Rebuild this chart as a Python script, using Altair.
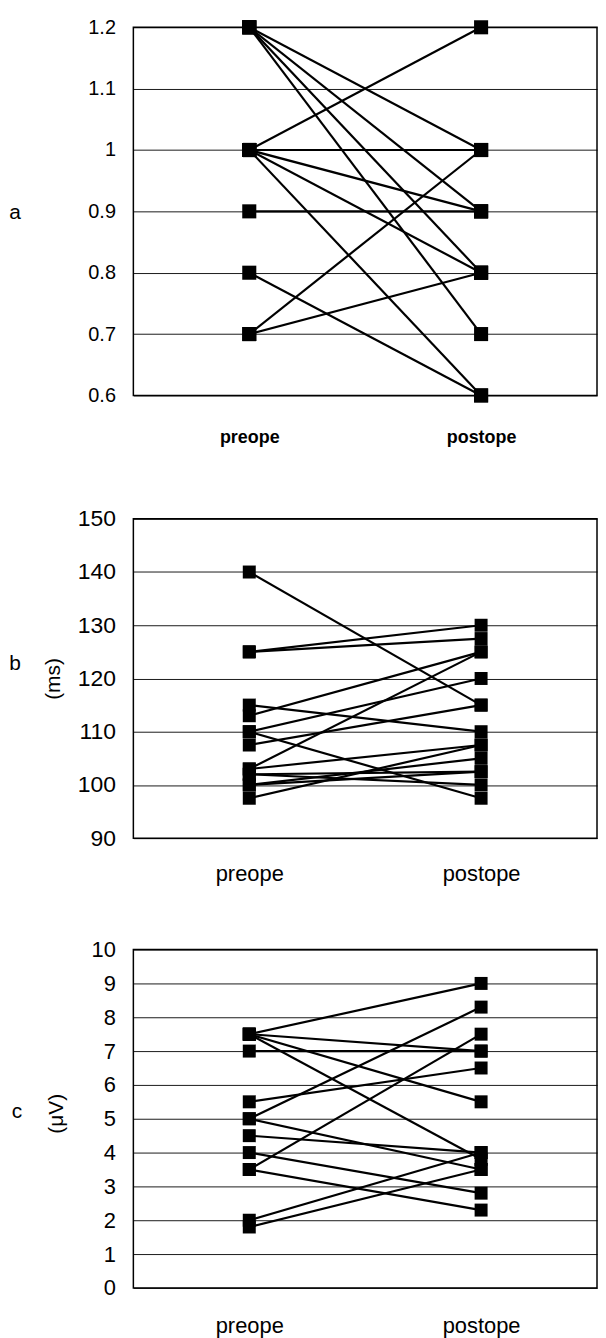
import altair as alt
import pandas as pd

phases = ["preope", "postope"]

# panel a (ratio)
a_pre = [1.2, 1.2, 1.2, 1.2, 1.0, 1.0, 1.0, 1.0, 1.0, 0.9, 0.8, 0.7, 0.7]
a_post = [1.0, 0.9, 0.8, 0.7, 1.2, 1.0, 0.9, 0.8, 0.6, 0.9, 0.6, 1.0, 0.8]
a_ticks = [0.6, 0.7, 0.8, 0.9, 1.0, 1.1, 1.2]

# panel b (ms)
b_pre = [140, 125, 125, 113, 110, 107.5, 103, 115, 110, 103, 100, 97.5, 102, 102, 100]
b_post = [115, 130, 127.5, 125, 120, 115, 125, 110, 97.5, 107.5, 105, 107.5, 100, 102.5, 102.5]
b_ticks = [90, 100, 110, 120, 130, 140, 150]

# panel c (uV)
c_pre = [7.5, 7.5, 7.0, 7.5, 7.5, 5.5, 5.0, 5.0, 4.5, 4.0, 3.5, 3.5, 2.0, 1.8]
c_post = [9.0, 7.0, 7.0, 5.5, 3.8, 6.5, 8.3, 3.5, 4.0, 2.8, 7.5, 2.3, 4.0, 3.5]
c_ticks = [0, 1, 2, 3, 4, 5, 6, 7, 8, 9, 10]

FONT = "Liberation Sans"
W = 466


def long(pre, post):
    rows = []
    for i, (p, q) in enumerate(zip(pre, post)):
        rows.append({"id": i, "phase": "preope", "value": p})
        rows.append({"id": i, "phase": "postope", "value": q})
    return pd.DataFrame(rows)


def panel(pre, post, domain, ticks, height, tick_size, fmt, xl_size, xl_pad,
          xl_weight, letter, letter_xy, unit=None, unit_xy=None, sq=170):
    df = long(pre, post)
    x = alt.X("phase:N", sort=phases,
              scale=alt.Scale(type="point", domain=phases, padding=0.5),
              axis=alt.Axis(title=None, labelAngle=0, domain=False, ticks=False,
                            grid=False, labelPadding=xl_pad, labelFontSize=xl_size,
                            labelFont=FONT, labelColor="black",
                            labelFontWeight=xl_weight))
    y = alt.Y("value:Q",
              scale=alt.Scale(domain=domain, nice=False, zero=False),
              axis=alt.Axis(title=None, values=ticks, format=fmt, grid=True,
                            gridColor="black", gridWidth=1, gridOpacity=0.9,
                            domain=False, ticks=False, labelPadding=18,
                            labelFontSize=tick_size, labelFont=FONT,
                            labelColor="black", labelFlush=False))
    base = alt.Chart(df)
    lines = base.mark_line(color="black", strokeWidth=2.2).encode(
        x=x, y=y, detail="id:N")
    pts = base.mark_square(color="black", size=sq, opacity=1).encode(x=x, y=y)
    layers = [lines, pts]
    lt = alt.Chart(pd.DataFrame({"t": [letter]})).mark_text(
        font=FONT, fontSize=21, color="black", align="center",
        baseline="middle").encode(x=alt.value(letter_xy[0]),
                                  y=alt.value(letter_xy[1]), text="t:N")
    layers.append(lt)
    if unit:
        ut = alt.Chart(pd.DataFrame({"t": [unit]})).mark_text(
            font=FONT, fontSize=21, color="black", align="center",
            baseline="middle", angle=270).encode(
            x=alt.value(unit_xy[0]), y=alt.value(unit_xy[1]), text="t:N")
        layers.append(ut)
    return alt.layer(*layers).properties(width=W, height=height)


pa = panel(a_pre, a_post, [0.6, 1.2], a_ticks, 370, 20, ".1~f", 18, 33, "bold",
           "a", (-119, 187), sq=200)
pb = panel(b_pre, b_post, [90, 150], b_ticks, 321, 23, "d", 22, 26, "normal",
           "b", (-119, 146), "(ms)", (-80, 161))
pc = panel(c_pre, c_post, [0, 10], c_ticks, 340, 22, "d", 22, 28, "normal",
           "c", (-117, 163), "(μV)", (-77, 165))

chart = alt.vconcat(alt.vconcat(pa, pb, spacing=60), pc, spacing=52).configure_view(
    stroke="black", strokeWidth=1.5).properties(
    padding={"left": 0, "top": 5, "right": 0, "bottom": 0})

chart.save("out.html", embed_options={"renderer": "svg", "actions": False})
